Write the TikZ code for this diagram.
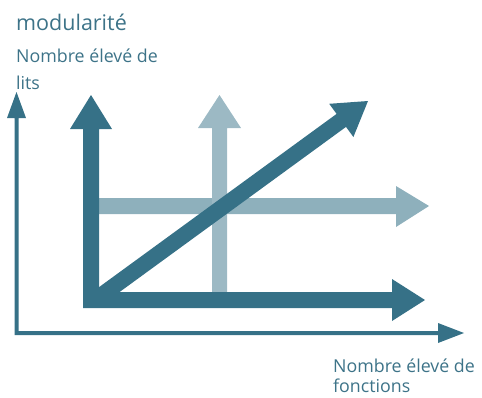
\documentclass[tikz,border=0pt]{standalone}
\usepackage{fontspec}
\setmainfont{Open Sans}
\definecolor{dark}{HTML}{367187}
\definecolor{lightv}{HTML}{9CB9C4}
\definecolor{lighth}{HTML}{8EB0BC}
\definecolor{txt}{HTML}{3D7388}
\begin{document}
\begin{tikzpicture}[x=1pt,y=-1pt,
  lbl/.style={anchor=base west,inner sep=0pt,text=txt,font=\fontsize{17.8}{20}\selectfont},
  ttl/.style={anchor=base west,inner sep=0pt,text=txt,font=\fontsize{21.5}{24}\selectfont}]
\useasboundingbox (0,0) rectangle (482,397);
% title and labels
\node[ttl] (title) at (16,30) {modularité};
\node[lbl] (ylab1) at (16,62) {Nombre élevé de};
\node[lbl] (ylab2) at (16,89.5) {lits};
\node[lbl] (xlab1) at (333,372.7) {Nombre élevé de};
\node[lbl] (xlab2) at (333,392.5) {fonctions};
% axes
\fill[dark] (14.5,335) -- (14.5,118) -- (7,118) -- (16.5,92) -- (26,118) -- (18.5,118) -- (18.5,331) -- (438,331) -- (438,323) -- (464,333) -- (438,343) -- (438,335) -- cycle;
% light horizontal arrow
\fill[lighth] (99,198) -- (396,198) -- (396,186) -- (429,206) -- (396,227) -- (396,214) -- (99,214) -- cycle;
% light vertical arrow
\fill[lightv] (212,292) -- (212,128) -- (198,128) -- (219.5,95) -- (241,128) -- (227,128) -- (227,292) -- cycle;
% dark L arrows
\fill[dark] (83,308) -- (83,129) -- (70,129) -- (91,95) -- (112,129) -- (99,129) -- (99,292) -- (392,292) -- (392,279) -- (425,300) -- (392,321) -- (392,308) -- cycle;
% diagonal arrow
\fill[dark] (99.7,306.5) -- (346.0,126.9) -- (353.4,137) -- (368,101) -- (329.2,103.8) -- (336.6,113.9) -- (90.3,293.5) -- cycle;
\end{tikzpicture}
\end{document}
